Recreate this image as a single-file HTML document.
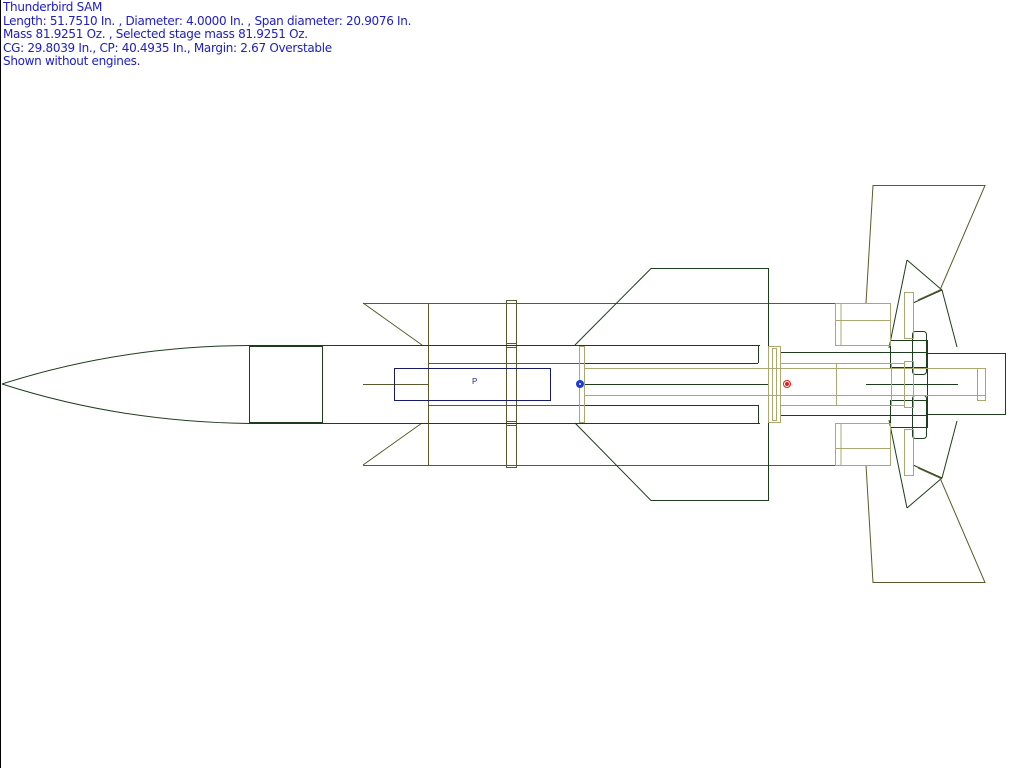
<!DOCTYPE html>
<html><head><meta charset="utf-8"><style>
body{margin:0;background:#fff;width:1024px;height:768px;overflow:hidden}
.t{position:absolute;left:3px;top:1px;font:12px/13.6px "DejaVu Sans","Liberation Sans",sans-serif;color:#2020c0;letter-spacing:-0.3px}
svg{position:absolute;left:0;top:0}
</style></head><body>
<svg width="1024" height="768" viewBox="0 0 1024 768" fill="none" stroke-width="1">
<line x1="0.5" y1="0" x2="0.5" y2="768" stroke="#000"/>
<g stroke="#5a5a2a">
<!-- booster pods -->
<line x1="363" y1="303.5" x2="835" y2="303.5"/>
<line x1="363" y1="465.5" x2="835" y2="465.5"/>
<line x1="363" y1="303" x2="422" y2="345"/>
<line x1="363" y1="465" x2="422" y2="423"/>
<line x1="428.5" y1="303" x2="428.5" y2="465"/>
<line x1="363" y1="384.5" x2="428" y2="384.5"/>
<line x1="428" y1="363.5" x2="758" y2="363.5"/>
<line x1="428" y1="405.5" x2="758" y2="405.5"/>
<rect x="506.5" y="300.5" width="10" height="167"/>
<line x1="506" y1="343.5" x2="516" y2="343.5"/><line x1="506" y1="347.5" x2="516" y2="347.5"/>
<line x1="506" y1="421.5" x2="516" y2="421.5"/><line x1="506" y1="425.5" x2="516" y2="425.5"/>
</g>
<g stroke="#1e3c1e">
<path d="M2,384 Q120,346 249,345.5 L760,345.5"/>
<path d="M2,384 Q120,422 249,423.5 L760,423.5"/>
<rect x="249.5" y="346.5" width="73" height="76"/>
<line x1="584" y1="363.5" x2="758" y2="363.5"/>
<line x1="584" y1="405.5" x2="758" y2="405.5"/>
<line x1="758.5" y1="345" x2="758.5" y2="363"/>
<line x1="758.5" y1="405" x2="758.5" y2="423"/>
<line x1="584" y1="384.5" x2="768" y2="384.5"/>
<path d="M575,345 L651,268.5 L768.5,268.5 L768.5,500.5 L651,500.5 L575,423"/>
<path d="M780,352.5 L927,352.5 M780,415.5 L927,415.5"/>
<rect x="927.5" y="353.5" width="78" height="61"/>
<line x1="866" y1="384.5" x2="958" y2="384.5"/>
<rect x="890.5" y="340.5" width="37" height="27"/>
<rect x="890.5" y="400.5" width="37" height="27"/>
<rect x="912.5" y="331.5" width="14" height="43" rx="3"/>
<rect x="912.5" y="395.5" width="14" height="43" rx="3"/>
<path d="M907,260 L942,290 L957,347 M942,290 L913,303 M907,260 L889,348"/>
<path d="M907,508 L942,478 L957,421 M942,478 L913,465 M907,508 L889,420"/>
</g>
<g stroke="#5a5a2a">
<path d="M866,303 L873,185.5 L985,185.5 L940,290 L918,300"/>
<path d="M866,465 L873,582.5 L985,582.5 L940,478 L918,468"/>
</g>
<g stroke="#a8a870">
<rect x="579.5" y="346.5" width="5" height="76"/>
<line x1="584" y1="368.5" x2="985" y2="368.5"/>
<line x1="584" y1="395.5" x2="985" y2="395.5"/>
<rect x="768.5" y="346.5" width="12" height="76"/>
<rect x="772.5" y="348.5" width="4" height="72"/>
<line x1="780" y1="363.5" x2="905" y2="363.5"/>
<line x1="780" y1="405.5" x2="905" y2="405.5"/>
<rect x="835.5" y="303.5" width="55" height="42"/>
<line x1="835" y1="320.5" x2="890" y2="320.5"/><line x1="841" y1="303" x2="841" y2="345"/>
<rect x="835.5" y="423.5" width="55" height="42"/>
<line x1="835" y1="448.5" x2="890" y2="448.5"/><line x1="841" y1="423" x2="841" y2="465"/>
<rect x="836.5" y="363.5" width="55" height="42"/>
<rect x="904.5" y="292.5" width="9" height="46"/>
<rect x="904.5" y="429.5" width="9" height="46"/>
<rect x="904.5" y="361.5" width="9" height="46"/>
<rect x="977.5" y="368.5" width="8" height="32"/>
</g>
<rect x="394.5" y="368.5" width="156" height="32" stroke="#1a1a6a"/>
<text x="472" y="384" font-family="Liberation Sans,sans-serif" font-size="8" fill="#2a2a80">P</text>
<circle cx="580" cy="384" r="3.5" fill="#1a3ae0" stroke="#1a3ae0"/>
<circle cx="580" cy="384" r="1" fill="#fff"/>
<circle cx="787" cy="384" r="3.5" stroke="#e02020" fill="#fff"/>
<circle cx="787" cy="384" r="2" fill="#e02020"/>
</svg>
<div class="t">Thunderbird SAM<br>Length: 51.7510 In. , Diameter: 4.0000 In. , Span diameter: 20.9076 In.<br>Mass 81.9251 Oz. , Selected stage mass 81.9251 Oz.<br>CG: 29.8039 In., CP: 40.4935 In., Margin: 2.67 Overstable<br>Shown without engines.</div>
</body></html>
